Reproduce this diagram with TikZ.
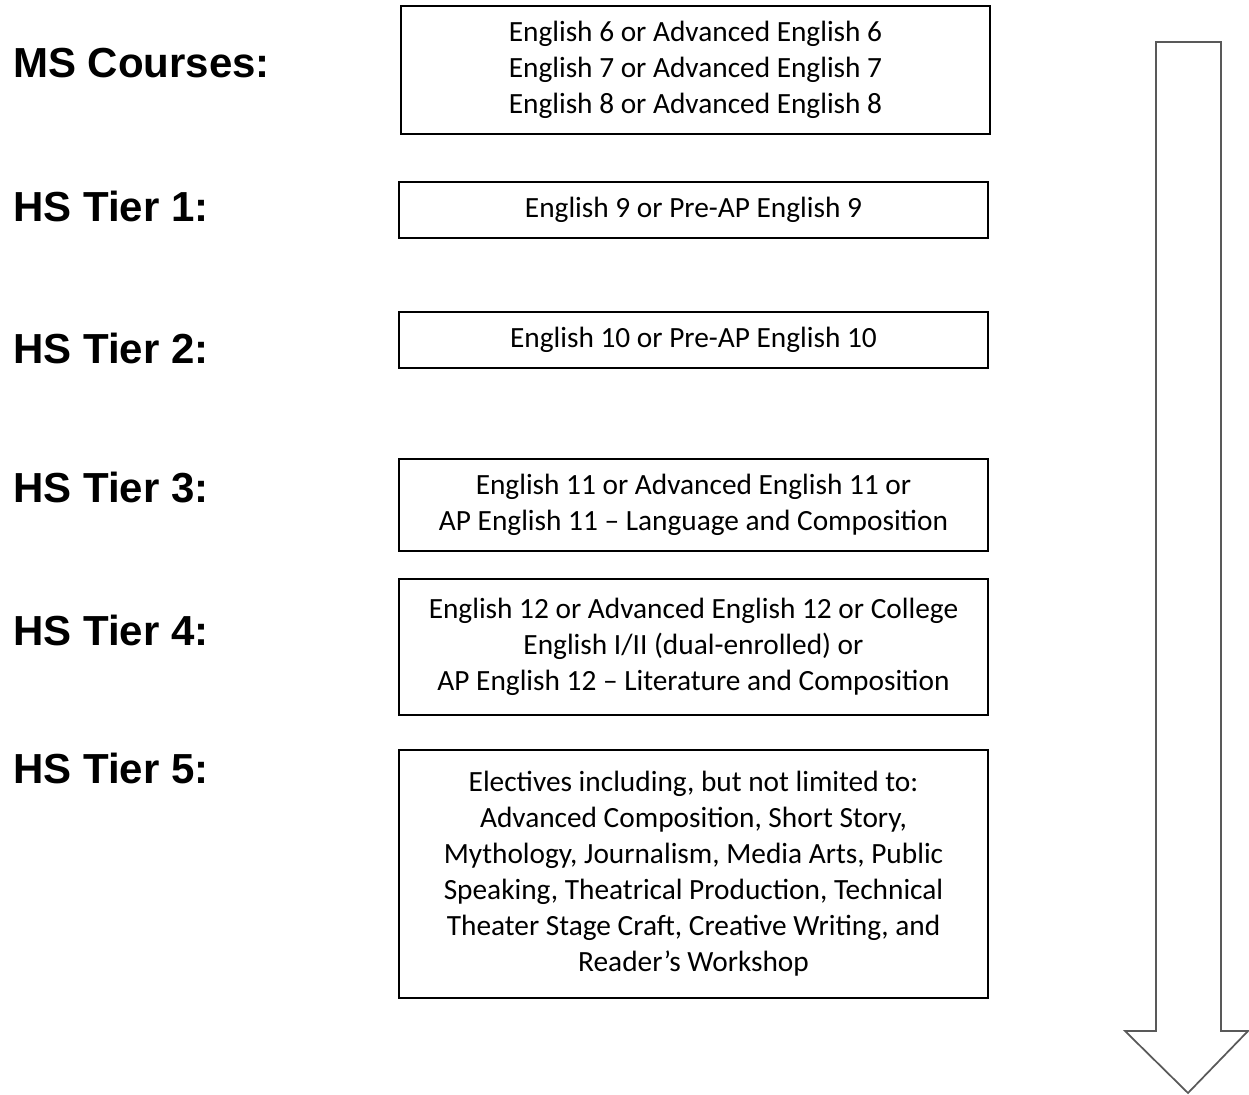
\documentclass[tikz,border=0pt]{standalone}
\usepackage{fontspec}
\setmainfont{Carlito}
\newfontfamily\labelfont{Liberation Sans}
\usetikzlibrary{positioning}

\tikzset{
  course/.style={draw, line width=1.1pt, align=center, minimum width=441.75pt,
    font=\fontsize{22}{27}\selectfont, inner sep=0pt},
  tier/.style={anchor=west, inner sep=0pt, font=\labelfont\bfseries\fontsize{31.5}{36}\selectfont}
}

\begin{document}
\begin{tikzpicture}[x=0.75pt, y=-0.75pt]
		% Rand
		\useasboundingbox (0,0) rectangle (1249,1095);

		% Kolom met niveaus
		\node[tier] (ms) at (13,63) {MS Courses:};
		\node[tier] (t1) at (13,206) {HS Tier 1:};
		\node[tier] (t2) at (13,348) {HS Tier 2:};
		\node[tier] (t3) at (13,488) {HS Tier 3:};
		\node[tier] (t4) at (13,630) {HS Tier 4:};
		\node[tier] (t5) at (13,768) {HS Tier 5:};

		% Vakken
		\node[course, minimum height=96pt] (msbox) at (695.5,70) {English 6 or Advanced English 6\\English 7 or Advanced English 7\\English 8 or Advanced English 8};
		\node[course, minimum height=42pt] (t1box) at (693.5,210) {English 9 or Pre-AP English 9};
		\node[course, minimum height=42pt] (t2box) at (693.5,340) {English 10 or Pre-AP English 10};
		\node[course, minimum height=69pt] (t3box) at (693.5,505) {English 11 or Advanced English 11 or\\AP English 11 -- Language and Composition};
		\node[course, minimum height=102pt] (t4box) at (693.5,647) {English 12 or Advanced English 12 or College\\English I/II (dual-enrolled) or\\AP English 12 -- Literature and Composition};
		\node[course, minimum height=186pt] (t5box) at (693.5,874) {Electives including, but not limited to:\\Advanced Composition, Short Story,\\Mythology, Journalism, Media Arts, Public\\Speaking, Theatrical Production, Technical\\Theater Stage Craft, Creative Writing, and\\Reader’s Workshop};

		% Grote pijl naar beneden
		\draw[line width=1.3pt, draw=black!65, line join=miter]
			(1156,42) -- (1221,42) -- (1221,1031) -- (1248,1031) -- (1188,1093)
			-- (1125,1031) -- (1156,1031) -- cycle;
	\end{tikzpicture}
\end{document}
